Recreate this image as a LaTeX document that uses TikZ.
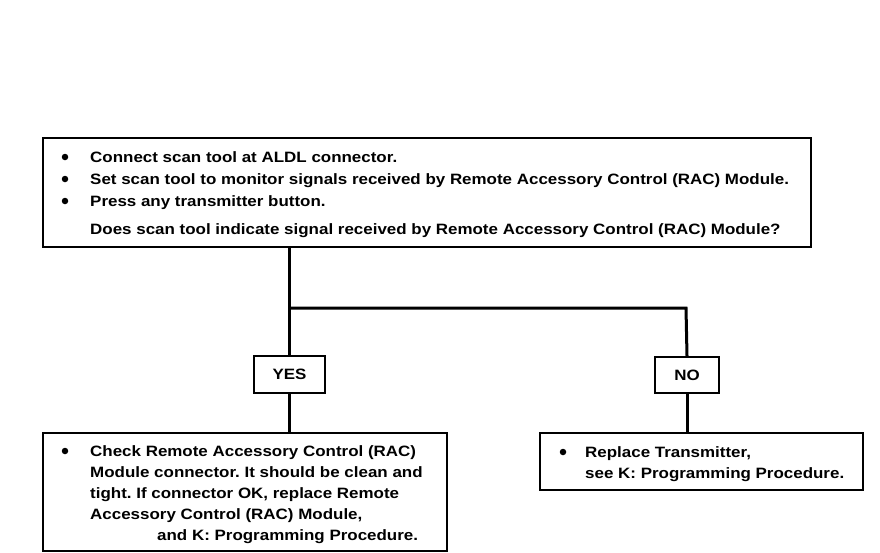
\documentclass[tikz,border=0pt]{standalone}
\usepackage{fontspec}
\setmainfont{Liberation Sans}[FakeStretch=1.13]
\tikzset{
  box/.style={draw, line width=2pt, inner sep=0pt, anchor=north west},
  lbl/.style={draw, line width=2pt, inner sep=0pt, anchor=north west, font=\fontsize{15}{17}\selectfont\bfseries},
  txt/.style={anchor=base west, inner sep=0pt, font=\fontsize{15}{17}\selectfont\bfseries},
  bul/.style={circle, fill, inner sep=0pt, minimum size=6.5pt},
  conn/.style={line width=3pt, line join=miter}
}
\begin{document}
\frenchspacing
\begin{tikzpicture}[x=1pt,y=-1pt]
\useasboundingbox (0,0) rectangle (880,552);
% boxes
\node[box, minimum width=768pt, minimum height=109pt] (top) at (42,137) {};
\node[lbl, minimum width=71pt, minimum height=37pt] (yes) at (253,355) {YES};
\node[lbl, minimum width=64pt, minimum height=36pt] (no) at (654,356) {NO};
\node[box, minimum width=404pt, minimum height=118pt] (bl) at (42,432) {};
\node[box, minimum width=323pt, minimum height=57pt] (br) at (539,432) {};
% connectors
\coordinate (split) at (288,308);
\coordinate (turn) at (686,308);
\draw[conn] (top.south -| yes.north) -- (yes.north);
\draw[conn] (yes.south) -- (yes.south |- bl.north);
\draw[conn] (split) -- (turn) -- (no.north);
\draw[conn] (no.south) -- (no.south |- br.north);
% top text
\node[bul] (b1) at (65,157) {};
\node[bul] (b2) at (65,179) {};
\node[bul] (b3) at (65,201) {};
\node[txt] (t1) at (90,162.5) {Connect scan tool at ALDL connector.};
\node[txt] (t2) at (90,184.5) {Set scan tool to monitor signals received by Remote Accessory Control (RAC) Module.};
\node[txt] (t3) at (90,206.5) {Press any transmitter button.};
\node[txt] (t4) at (90,234.5) {Does scan tool indicate signal received by Remote Accessory Control (RAC) Module?};
% bottom left text
\node[bul] (b4) at (65,451) {};
\node[txt] (l1) at (90,456.5) {Check Remote Accessory Control (RAC)};
\node[txt] (l2) at (90,477.5) {Module connector. It should be clean and};
\node[txt] (l3) at (90,498.5) {tight. If connector OK, replace Remote};
\node[txt] (l4) at (90,519.5) {Accessory Control (RAC) Module,};
\node[txt] (l5) at (157,540.5) {and K: Programming Procedure.};
% bottom right text
\node[bul] (b5) at (563,452) {};
\node[txt] (r1) at (585,457.5) {Replace Transmitter,};
\node[txt] (r2) at (585,478.5) {see K: Programming Procedure.};
\end{tikzpicture}
\end{document}
